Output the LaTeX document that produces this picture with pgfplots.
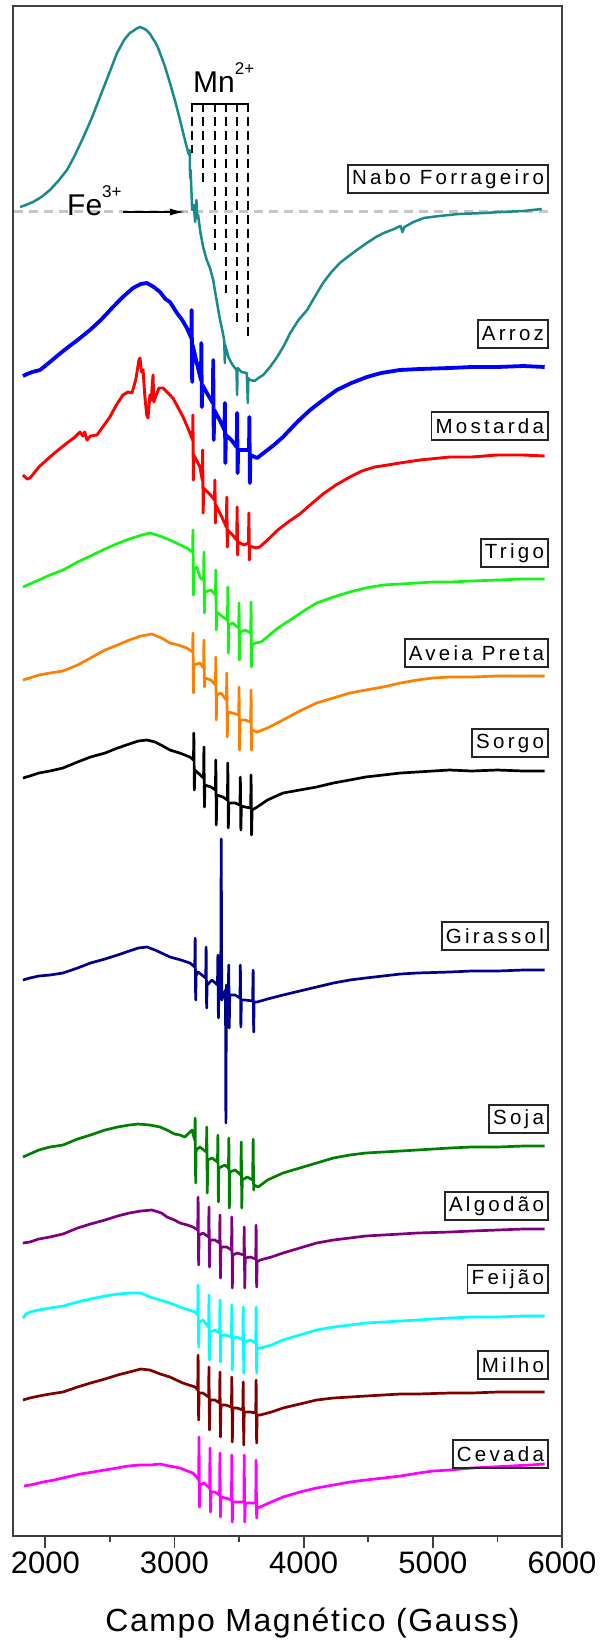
\documentclass[border=0pt]{standalone}
\usepackage{fontspec}
\setmainfont{Liberation Sans}
\usepackage{pgfplots}
\pgfplotsset{compat=1.18}
\usetikzlibrary{arrows.meta}
\definecolor{cTeal}{RGB}{26,138,138}
\definecolor{cBlue}{RGB}{0,0,255}
\definecolor{cRed}{RGB}{255,0,0}
\definecolor{cLime}{RGB}{20,245,20}
\definecolor{cOrange}{RGB}{255,128,0}
\definecolor{cNavy}{RGB}{0,0,140}
\definecolor{cGreen}{RGB}{0,128,0}
\definecolor{cPurple}{RGB}{128,0,128}
\definecolor{cCyan}{RGB}{0,255,255}
\definecolor{cMaroon}{RGB}{128,0,0}
\definecolor{cMagenta}{RGB}{255,0,255}
\tikzset{lbl/.style={draw=black!85, line width=1.5pt, inner xsep=4pt, inner ysep=0pt,
  minimum height=28pt, anchor=east, text=black,
  font=\fontsize{20.5}{20.5}\selectfont\addfontfeatures{LetterSpace=16}}}
\begin{document}
\begin{tikzpicture}
\begin{axis}[
  at={(0pt,0pt)}, anchor=south west,
  scale only axis, width=549pt, height=1530pt,
  xmin=1750, xmax=6000, ymin=6, ymax=1536, y dir=reverse,
  ytick=\empty,
  xtick={2000,3000,4000,5000,6000},
  minor xtick={2500,3500,4500,5500},
  xtick pos=bottom, tick align=outside,
  major tick length=12pt, minor tick length=6pt,
  axis line style={line width=1.8pt, black!75},
  every tick/.style={line width=1.8pt, black!75},
  ticklabel style={font=\fontsize{31}{31}\selectfont},
  /pgf/number format/assume math mode=true,
  /pgf/number format/1000 sep={},
  xlabel={Campo Magnético (Gauss)},
  xlabel style={font=\fontsize{32}{32}\selectfont\addfontfeatures{LetterSpace=5},
    at={(axis description cs:0.5,0)}, anchor=center, yshift=-87pt, xshift=25pt},
  clip=false,
  every axis plot/.append style={line width=2.7pt, line join=round},
]
% baseline of Nabo Forrageiro
\addplot[gray!45, line width=3pt, dash pattern=on 9pt off 6pt] coordinates {(1760,211) (5900,211)};
% Nabo Forrageiro
\addplot[cTeal, line width=2.5pt] coordinates {
(1805,207) (1850,205) (1905,202) (1970,197) (2036,190) (2100,181) (2168,170) (2230,155) (2292,138) (2360,118) (2423,97) (2490,75) (2555,53) (2585,46) (2610,40) (2635,36) (2655,33) (2680,31) (2700,29) (2733,27) (2770,29) (2790,31) (2811,34) (2830,38) (2850,42) (2870,47) (2888,53) (2925,66) (2965,83) (3005,101) (3043,120) (3075,137) (3105,152) (3115,155) (3118,150) (3121,178) (3125,170) (3137,210) (3150,205) (3160,222) (3170,200) (3175,218) (3183,215) (3200,232) (3222,247) (3250,260) (3275,268) (3300,280) (3315,292) (3330,303) (3350,318) (3370,330) (3385,340) (3390,363) (3393,345) (3420,358) (3450,365) (3480,370) (3485,395) (3488,368) (3520,372) (3560,373) (3568,403) (3571,378) (3586,380) (3620,381) (3650,378) (3687,375) (3740,367) (3795,357) (3850,345) (3896,333) (3960,320) (4027,310) (4090,296) (4150,283) (4215,272) (4280,263) (4350,256) (4412,250) (4489,243) (4560,237) (4620,233) (4700,229) (4750,226) (4765,232) (4780,227) (4850,222) (4930,218) (5050,216) (5200,214) (5400,213) (5525,212) (5700,211) (5843,209)};
% Arroz
\addplot[cBlue, line width=3.8pt] coordinates {
(1827,376) (1860,374) (1900,372) (1959,370) (2036,362) (2100,355) (2168,348) (2250,340) (2346,330) (2430,320) (2524,307) (2600,297) (2679,288) (2740,284) (2787,283) (2840,287) (2888,292) (2930,299) (2965,302) (3019,313) (3060,320) (3096,328) (3130,338) (3133,310) (3137,382) (3140,345) (3173,363) (3205,380) (3208,343) (3212,407) (3216,385) (3260,395) (3297,403) (3300,360) (3304,440) (3308,410) (3350,420) (3387,430) (3390,403) (3394,463) (3398,435) (3440,440) (3482,447) (3485,413) (3489,473) (3493,450) (3540,450) (3577,450) (3580,417) (3584,483) (3588,455) (3640,458) (3700,452) (3770,445) (3840,437) (3950,422) (4050,410) (4150,400) (4257,390) (4370,383) (4489,377) (4600,373) (4744,370) (4900,369) (5131,368) (5300,367) (5500,367) (5700,366) (5866,367)};
% Mostarda
\addplot[cRed, line width=2.9pt] coordinates {
(1827,475) (1860,479) (1882,478) (1950,467) (2036,457) (2100,450) (2168,443) (2230,437) (2269,432) (2290,436) (2305,432) (2323,440) (2350,436) (2400,435) (2450,426) (2500,417) (2550,405) (2601,395) (2640,392) (2671,393) (2700,380) (2725,360) (2733,358) (2745,372) (2757,370) (2770,395) (2785,415) (2795,418) (2810,395) (2820,400) (2834,375) (2840,402) (2850,398) (2880,388) (2911,388) (2950,393) (2988,398) (3030,408) (3067,417) (3100,427) (3120,433) (3140,440) (3143,415) (3146,480) (3150,455) (3197,467) (3215,480) (3218,450) (3222,513) (3226,488) (3280,495) (3310,500) (3313,480) (3317,523) (3320,505) (3370,518) (3402,527) (3405,497) (3409,547) (3412,530) (3450,535) (3482,540) (3485,507) (3489,555) (3493,542) (3540,545) (3573,543) (3576,513) (3580,560) (3584,546) (3630,548) (3660,547) (3720,540) (3800,530) (3880,522) (3970,514) (4050,505) (4150,494) (4250,485) (4357,477) (4450,471) (4550,467) (4650,465) (4744,463) (4900,460) (5131,457) (5300,457) (5500,455) (5700,455) (5866,456)};
% Trigo
\addplot[cLime] coordinates {
(1827,587) (1880,584) (1950,580) (2036,575) (2137,570) (2250,562) (2350,556) (2462,549) (2550,544) (2650,539) (2748,535) (2810,533) (2888,536) (2965,540) (3030,544) (3096,548) (3140,552) (3143,530) (3147,595) (3151,570) (3173,567) (3200,578) (3225,580) (3228,552) (3232,613) (3236,592) (3283,590) (3317,595) (3320,570) (3324,630) (3328,612) (3375,617) (3410,620) (3413,587) (3417,653) (3421,625) (3450,623) (3497,628) (3500,603) (3504,660) (3508,632) (3547,630) (3590,633) (3593,602) (3597,667) (3601,645) (3625,643) (3670,642) (3718,637) (3800,628) (3896,620) (4000,611) (4100,603) (4230,597) (4357,592) (4480,588) (4615,585) (4750,584) (4878,583) (5000,582) (5131,582) (5300,581) (5500,580) (5700,579) (5866,579)};
% Aveia Preta
\addplot[cOrange] coordinates {
(1827,680) (1880,678) (1950,675) (2036,673) (2137,671) (2250,665) (2350,658) (2462,650) (2560,645) (2650,640) (2740,636) (2825,634) (2900,638) (2965,643) (3030,645) (3096,648) (3140,652) (3143,633) (3147,693) (3151,665) (3197,663) (3225,668) (3228,640) (3232,687) (3236,678) (3283,680) (3317,685) (3320,657) (3324,720) (3328,695) (3360,693) (3402,700) (3405,673) (3409,737) (3413,712) (3450,713) (3497,715) (3500,687) (3504,750) (3508,720) (3547,720) (3590,722) (3593,690) (3597,750) (3601,730) (3640,732) (3720,728) (3840,720) (3970,711) (4100,703) (4230,698) (4357,693) (4480,690) (4615,687) (4750,683) (4878,680) (5000,678) (5131,677) (5300,677) (5500,676) (5700,676) (5866,676)};
% Sorgo
\addplot[black] coordinates {
(1827,778) (1880,776) (1950,773) (2036,771) (2137,768) (2250,762) (2350,757) (2462,753) (2560,748) (2650,744) (2720,741) (2787,740) (2850,742) (2910,746) (2965,750) (3040,753) (3120,757) (3147,760) (3150,733) (3154,790) (3158,770) (3183,773) (3225,778) (3228,747) (3232,807) (3236,785) (3283,787) (3317,790) (3320,760) (3324,825) (3328,795) (3375,797) (3410,800) (3413,763) (3417,828) (3421,803) (3470,803) (3507,805) (3510,777) (3514,830) (3518,806) (3547,807) (3590,808) (3593,775) (3597,835) (3601,810) (3640,807) (3720,800) (3840,793) (3970,790) (4100,787) (4230,783) (4357,780) (4480,777) (4615,775) (4750,773) (4878,772) (5000,771) (5131,770) (5300,771) (5500,770) (5700,771) (5866,771)};
% Girassol
\addplot[cNavy] coordinates {
(1827,980) (1880,978) (1950,976) (2036,975) (2137,973) (2250,968) (2350,963) (2462,959) (2560,955) (2650,951) (2720,948) (2787,947) (2850,950) (2965,957) (3050,960) (3120,963) (3157,967) (3160,938) (3164,1000) (3168,975) (3183,972) (3242,978) (3245,947) (3249,1008) (3253,985) (3290,980) (3333,985) (3336,955) (3340,1018) (3344,995) (3358,990) (3362,839) (3366,1000) (3395,990) (3398,1123) (3402,985) (3417,990) (3420,965) (3424,1028) (3428,995) (3470,995) (3507,998) (3510,965) (3514,1027) (3518,1000) (3547,1000) (3605,1001) (3609,970) (3613,1032) (3617,1002) (3640,1002) (3720,999) (3840,995) (3970,991) (4100,987) (4230,983) (4357,980) (4480,978) (4615,976) (4750,974) (4878,973) (5131,972) (5300,971) (5500,971) (5700,970) (5866,970)};
% Soja
\addplot[cGreen] coordinates {
(1827,1157) (1880,1154) (1950,1150) (2036,1147) (2137,1145) (2250,1139) (2350,1135) (2462,1130) (2560,1127) (2650,1125) (2720,1124) (2810,1125) (2888,1127) (2942,1130) (3000,1134) (3043,1135) (3080,1137) (3120,1132) (3135,1130) (3157,1140) (3160,1118) (3164,1183) (3168,1150) (3197,1147) (3247,1152) (3250,1127) (3254,1193) (3258,1160) (3290,1158) (3333,1162) (3336,1135) (3340,1202) (3344,1168) (3390,1165) (3418,1168) (3421,1138) (3425,1208) (3429,1172) (3470,1170) (3514,1175) (3517,1142) (3521,1208) (3525,1180) (3563,1177) (3605,1180) (3609,1139) (3613,1190) (3617,1185) (3648,1187) (3720,1180) (3840,1173) (3970,1168) (4100,1163) (4230,1158) (4357,1155) (4480,1153) (4615,1152) (4750,1151) (4878,1150) (5131,1148) (5300,1147) (5500,1147) (5700,1146) (5866,1146)};
% Algodao
\addplot[cPurple] coordinates {
(1827,1243) (1880,1242) (1950,1239) (2036,1237) (2137,1234) (2250,1228) (2350,1224) (2462,1220) (2560,1216) (2650,1213) (2740,1211) (2825,1210) (2900,1213) (2942,1217) (3000,1220) (3043,1223) (3100,1225) (3143,1227) (3180,1230) (3183,1197) (3187,1265) (3191,1235) (3220,1233) (3264,1237) (3267,1207) (3271,1267) (3275,1240) (3313,1240) (3349,1243) (3352,1215) (3356,1278) (3360,1247) (3405,1247) (3441,1250) (3444,1217) (3448,1288) (3452,1255) (3485,1253) (3537,1255) (3540,1227) (3544,1288) (3548,1258) (3586,1257) (3629,1259) (3632,1225) (3636,1287) (3640,1262) (3663,1260) (3750,1257) (3840,1253) (3970,1248) (4100,1243) (4230,1240) (4357,1238) (4480,1236) (4615,1235) (4750,1234) (4878,1233) (5131,1232) (5300,1231) (5500,1230) (5700,1229) (5866,1229)};
% Feijao
\addplot[cCyan] coordinates {
(1827,1318) (1850,1314) (1880,1312) (1950,1310) (2036,1308) (2137,1306) (2250,1302) (2350,1299) (2462,1296) (2560,1294) (2650,1293) (2740,1293) (2810,1297) (2890,1300) (2965,1303) (3065,1308) (3160,1312) (3180,1315) (3183,1285) (3187,1347) (3191,1322) (3220,1320) (3264,1327) (3267,1295) (3271,1360) (3275,1332) (3313,1330) (3349,1333) (3352,1300) (3356,1362) (3360,1335) (3398,1335) (3441,1337) (3444,1305) (3448,1370) (3452,1338) (3485,1337) (3529,1340) (3532,1307) (3536,1373) (3540,1342) (3586,1340) (3629,1343) (3632,1307) (3636,1373) (3640,1348) (3663,1348) (3750,1345) (3840,1340) (3970,1335) (4100,1330) (4230,1327) (4357,1325) (4480,1323) (4615,1322) (4750,1321) (4878,1320) (5131,1318) (5300,1317) (5500,1317) (5700,1316) (5866,1316)};
% Milho
\addplot[cMaroon] coordinates {
(1827,1400) (1880,1398) (1950,1396) (2036,1394) (2137,1392) (2250,1387) (2350,1383) (2462,1379) (2560,1375) (2650,1372) (2740,1369) (2810,1370) (2890,1374) (2965,1377) (3065,1383) (3160,1387) (3180,1390) (3183,1355) (3187,1420) (3191,1393) (3220,1393) (3264,1397) (3267,1367) (3271,1430) (3275,1400) (3313,1400) (3349,1403) (3352,1372) (3356,1437) (3360,1405) (3398,1405) (3441,1407) (3444,1377) (3448,1442) (3452,1408) (3485,1408) (3529,1410) (3532,1382) (3536,1445) (3540,1412) (3586,1412) (3629,1413) (3632,1380) (3636,1443) (3640,1415) (3663,1415) (3750,1412) (3840,1408) (3970,1404) (4100,1400) (4230,1398) (4357,1397) (4480,1396) (4615,1395) (4750,1394) (4878,1394) (5131,1393) (5300,1393) (5500,1392) (5700,1392) (5866,1392)};
% Cevada
\addplot[cMagenta] coordinates {
(1835,1486) (1880,1485) (1920,1484) (1982,1482) (2070,1480) (2168,1477) (2270,1474) (2369,1472) (2460,1470) (2555,1468) (2640,1466) (2733,1465) (2810,1465) (2888,1464) (2960,1466) (3043,1468) (3100,1471) (3143,1473) (3173,1477) (3187,1480) (3190,1437) (3194,1507) (3198,1485) (3228,1483) (3272,1488) (3275,1448) (3279,1512) (3283,1492) (3313,1492) (3349,1495) (3352,1453) (3356,1517) (3360,1497) (3398,1498) (3441,1500) (3444,1455) (3448,1522) (3452,1502) (3490,1502) (3537,1502) (3540,1455) (3544,1522) (3548,1503) (3590,1503) (3629,1503) (3632,1460) (3636,1518) (3640,1508) (3663,1507) (3750,1502) (3840,1497) (3970,1492) (4100,1488) (4230,1485) (4357,1482) (4480,1480) (4615,1478) (4750,1476) (4891,1473) (5000,1471) (5131,1470) (5301,1468) (5450,1467) (5600,1466) (5750,1465) (5866,1464)};
% Mn2+ bracket and dashed lines
\addplot[black, line width=1.6pt] coordinates {(3135,104) (3568,104)};
\addplot[black, line width=1.6pt, dash pattern=on 9pt off 5pt] coordinates {(3135,103) (3135,153)};
\addplot[black, line width=1.6pt, dash pattern=on 9pt off 5pt] coordinates {(3220,103) (3220,185)};
\addplot[black, line width=1.6pt, dash pattern=on 9pt off 5pt] coordinates {(3313,103) (3313,250)};
\addplot[black, line width=1.6pt, dash pattern=on 9pt off 5pt] coordinates {(3398,103) (3398,293)};
\addplot[black, line width=1.6pt, dash pattern=on 9pt off 5pt] coordinates {(3483,103) (3483,322)};
\addplot[black, line width=1.6pt, dash pattern=on 9pt off 5pt] coordinates {(3568,103) (3568,337)};
% Fe3+ arrow
\addplot[black, line width=1.5pt, -{Latex[length=15pt,width=7pt]}] coordinates {(2601,212) (3081,212)};
\node[anchor=base west, inner sep=0pt, font=\fontsize{30}{30}\selectfont] at (axis cs:3143,92)
  {Mn\raisebox{0.6em}{\fontsize{17}{17}\selectfont 2+}};
\node[anchor=base west, inner sep=0pt, font=\fontsize{30}{30}\selectfont] at (axis cs:2168,215)
  {Fe\raisebox{0.6em}{\fontsize{17}{17}\selectfont 3+}};
% labels
\node[lbl] at (axis cs:5897,179) {Nabo Forrageiro};
\node[lbl] at (axis cs:5897,334) {Arroz};
\node[lbl] at (axis cs:5897,426) {Mostarda};
\node[lbl] at (axis cs:5897,553) {Trigo};
\node[lbl] at (axis cs:5897,653) {Aveia Preta};
\node[lbl] at (axis cs:5897,743) {Sorgo};
\node[lbl] at (axis cs:5897,936) {Girassol};
\node[lbl] at (axis cs:5897,1119) {Soja};
\node[lbl] at (axis cs:5897,1206) {Algodão};
\node[lbl] at (axis cs:5897,1279) {Feijão};
\node[lbl] at (axis cs:5897,1365) {Milho};
\node[lbl] at (axis cs:5897,1454) {Cevada};
\end{axis}
\pgfresetboundingbox
\path[use as bounding box] (-13pt,-108pt) rectangle (591pt,1536pt);
\end{tikzpicture}
\end{document}
